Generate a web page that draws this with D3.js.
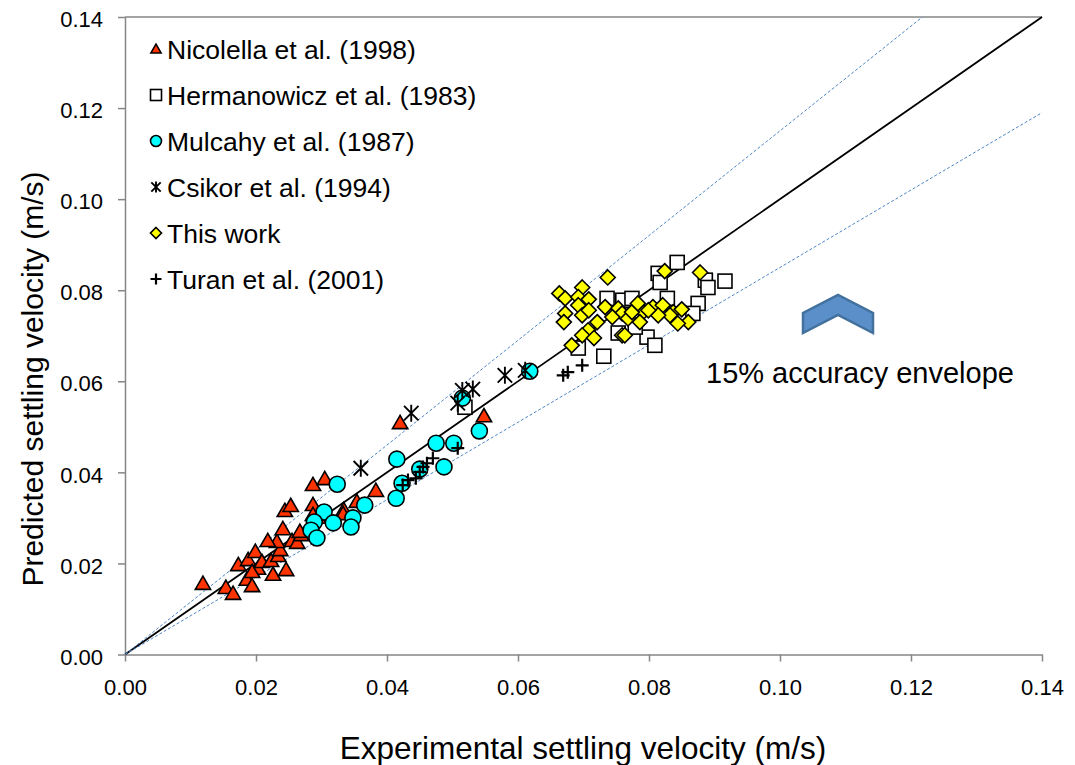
<!DOCTYPE html>
<html><head><meta charset="utf-8">
<script src="https://cdn.jsdelivr.net/npm/d3@7"></script>
<style>body{margin:0;background:#fff;} text{font-family:"Liberation Sans",Arial,sans-serif;}</style>
</head><body>
<svg id="c" width="1075" height="765"></svg>
<script>
// ---- data ----
const nicolellaX = [0.0119,0.0154,0.0165,0.0173,0.0186,0.0194,0.0188,0.0199,0.0203,0.0194,0.0209,0.0223,0.0226,0.0234,0.0246,0.0237,0.0232,0.0241,0.0255,0.0263,0.0269,0.0244,0.0253,0.0287,0.0287,0.0334,0.0287,0.0305,0.0383,0.0420,0.0548,0.0354,0.0267,0.0333,0.0295,0.0218];
const nicolellaY = [0.0155,0.0146,0.0133,0.0196,0.0164,0.0150,0.0207,0.0225,0.0188,0.0181,0.0203,0.0205,0.0175,0.0216,0.0185,0.0229,0.0247,0.0275,0.0249,0.0245,0.0262,0.0315,0.0326,0.0328,0.0306,0.0317,0.0372,0.0385,0.0359,0.0508,0.0523,0.0335,0.0269,0.0308,0.0300,0.0249];
const hermanowiczX = [0.0843,0.0814,0.0817,0.0886,0.0890,0.0916,0.0875,0.0867,0.0828,0.0797,0.0809,0.0731,0.0736,0.0760,0.0753,0.0692,0.0774,0.0779,0.0519];
const hermanowiczY = [0.0861,0.0837,0.0817,0.0822,0.0806,0.0820,0.0771,0.0749,0.0782,0.0697,0.0679,0.0655,0.0782,0.0778,0.0706,0.0673,0.0782,0.0719,0.0543];
const mulcahyX = [0.0324,0.0304,0.0318,0.0289,0.0284,0.0293,0.0348,0.0345,0.0366,0.0414,0.0423,0.0415,0.0450,0.0475,0.0502,0.0487,0.0541,0.0515,0.0618];
const mulcahyY = [0.0374,0.0313,0.0289,0.0291,0.0273,0.0256,0.0300,0.0280,0.0328,0.0343,0.0376,0.0429,0.0407,0.0464,0.0464,0.0412,0.0491,0.0563,0.0622];
const csikorX = [0.0360,0.0437,0.0508,0.0515,0.0531,0.0580,0.0611];
const csikorY = [0.0409,0.0530,0.0552,0.0580,0.0583,0.0613,0.0624];
const thisWorkX = [0.0737,0.0663,0.0672,0.0698,0.0692,0.0708,0.0672,0.0670,0.0692,0.0698,0.0708,0.0733,0.0721,0.0707,0.0698,0.0716,0.0682,0.0753,0.0759,0.0768,0.0759,0.0744,0.0824,0.0878,0.0806,0.0821,0.0837,0.0850,0.0860,0.0844,0.0832,0.0791,0.0786,0.0774,0.0814,0.0783,0.0763,0.0799];
const thisWorkY = [0.0828,0.0793,0.0782,0.0806,0.0785,0.0780,0.0749,0.0730,0.0767,0.0745,0.0756,0.0763,0.0730,0.0712,0.0701,0.0695,0.0679,0.0760,0.0749,0.0738,0.0701,0.0741,0.0842,0.0839,0.0763,0.0767,0.0752,0.0758,0.0730,0.0727,0.0745,0.0752,0.0730,0.0752,0.0745,0.0771,0.0701,0.0756];
const turanX = [0.0424,0.0432,0.0450,0.0455,0.0461,0.0470,0.0508,0.0669,0.0676,0.0698,0.0444];
const turanY = [0.0372,0.0383,0.0401,0.0412,0.0420,0.0431,0.0453,0.0613,0.0620,0.0635,0.0387];
const tickValues = [0,0.02,0.04,0.06,0.08,0.10,0.12,0.14];
const seriesNames = ["Nicolella et al. (1998)","Hermanowicz et al. (1983)","Mulcahy et al. (1987)","Csikor et al. (1994)","This work","Turan et al. (2001)"];
const envelopeFactors = [1.15, 0.85];
const annotation = "15% accuracy envelope";

// ---- layout ----
const svg = d3.select("#c");
const L = 125, R = 1042, T = 17, B = 654.5;
const x = d3.scaleLinear().domain([0,0.14]).range([L,R]);
const y = d3.scaleLinear().domain([0,0.14]).range([B,T]);
const fmt = d3.format(".2f");

// axes
const gx = svg.append("g").attr("transform",`translate(0,${B})`)
  .call(d3.axisBottom(x).tickValues(tickValues).tickFormat(fmt).tickSize(7).tickSizeOuter(0));
const gy = svg.append("g").attr("transform",`translate(${L},0)`)
  .call(d3.axisLeft(y).tickValues(tickValues).tickFormat(fmt).tickSize(7).tickSizeOuter(0));
[gx,gy].forEach(g=>{
  g.select(".domain").attr("stroke","#868686").attr("stroke-width",1.5);
  g.selectAll(".tick line").attr("stroke","#868686").attr("stroke-width",1.5);
  g.selectAll(".tick text").attr("fill","#000").style("font-size","22px").style("font-family","'Liberation Sans',Arial,sans-serif");
});
gx.selectAll(".tick text").attr("y",33).attr("dy","0.35em");
gy.selectAll(".tick text").attr("x",-22).attr("y",2).attr("dy","0.35em");
// top border
svg.append("line").attr("x1",L).attr("x2",R).attr("y1",T).attr("y2",T).attr("stroke","#868686").attr("stroke-width",1.5);

// lines
const plot = svg.append("g");
plot.append("line").attr("x1",x(0)).attr("y1",y(0)).attr("x2",x(0.14)).attr("y2",y(0.14))
  .attr("stroke","#000").attr("stroke-width",1.8);
envelopeFactors.forEach(f=>{
  const xe = f>1 ? 0.14/f : 0.14;
  plot.append("line").attr("x1",x(0)).attr("y1",y(0)).attr("x2",x(xe)).attr("y2",y(xe*f))
    .attr("stroke","#4f86c6").attr("stroke-width",1).attr("stroke-dasharray","3,2");
});

// markers
const sw = 1.6;
function tri(g,s){ g.append("path").attr("d",d3.symbol(d3.symbolTriangle,s*s*0.45)()).attr("fill","#ff3300").attr("stroke","#000").attr("stroke-width",sw).attr("transform","translate(0,1)"); }
function sq(g,s){ g.append("rect").attr("x",-s/2).attr("y",-s/2).attr("width",s).attr("height",s).attr("fill","#fff").attr("stroke","#000").attr("stroke-width",sw); }
function circ(g,s){ g.append("circle").attr("r",s/2).attr("fill","#00ffff").attr("stroke","#000").attr("stroke-width",sw); }
function star(g,s){ const h=s/2, d=h*0.85;
  g.append("path").attr("d",`M${-d},${-d}L${d},${d}M${-d},${d}L${d},${-d}M0,${-h}L0,${h}`).attr("stroke","#000").attr("stroke-width",1.9).attr("fill","none"); }
function dia(g,s){ const h=s/2; g.append("path").attr("d",`M0,${-h}L${h},0L0,${h}L${-h},0Z`).attr("fill","#ffff00").attr("stroke","#000").attr("stroke-width",sw); }
function plus(g,s){ const h=s/2; g.append("path").attr("d",`M${-h},0L${h},0M0,${-h}L0,${h}`).attr("stroke","#000").attr("stroke-width",2.2).attr("fill","none"); }

const series = [
  {xs:nicolellaX, ys:nicolellaY, f:tri, s:15},
  {xs:hermanowiczX, ys:hermanowiczY, f:sq, s:14},
  {xs:mulcahyX, ys:mulcahyY, f:circ, s:16},
  {xs:csikorX, ys:csikorY, f:star, s:17},
  {xs:thisWorkX, ys:thisWorkY, f:dia, s:15},
  {xs:turanX, ys:turanY, f:plus, s:13},
];
series.forEach(se=>{
  const pts = se.xs.map((v,i)=>[v,se.ys[i]]);
  plot.selectAll(null).data(pts).enter().append("g")
    .attr("transform",d=>`translate(${x(d[0])},${y(d[1])})`)
    .each(function(){ se.f(d3.select(this), se.s); });
});

// legend
const lg = svg.append("g");
const legSizes = [10,11,11,11,11,11];
seriesNames.forEach((n,i)=>{
  const yy = 49 + i*46;
  const g = lg.append("g").attr("transform",`translate(156,${yy})`);
  series[i].f(g, legSizes[i]);
  lg.append("text").attr("x",167).attr("y",yy).attr("dy","0.36em").style("font-size","26.5px").attr("fill","#000").text(n);
});

// chevron arrow
const ax = 838, ay = 295;
svg.append("path")
  .attr("d",`M${ax-35},${ay+38}L${ax-35},${ay+18}L${ax},${ay}L${ax+35},${ay+18}L${ax+35},${ay+38}L${ax},${ay+20}Z`)
  .attr("fill","#5b8fc9").attr("stroke","#41719c").attr("stroke-width",2.5).attr("stroke-linejoin","miter");

svg.append("text").attr("x",706).attr("y",383).style("font-size","29px").attr("fill","#000").text(annotation);

// axis titles
svg.append("text").attr("x",583).attr("y",759).attr("text-anchor","middle").style("font-size","31.5px").attr("fill","#000")
  .text("Experimental settling velocity (m/s)");
svg.append("text").attr("transform",`translate(43,${379}) rotate(-90)`).attr("text-anchor","middle").style("font-size","30px").attr("fill","#000")
  .text("Predicted settling velocity (m/s)");
</script>
</body></html>
